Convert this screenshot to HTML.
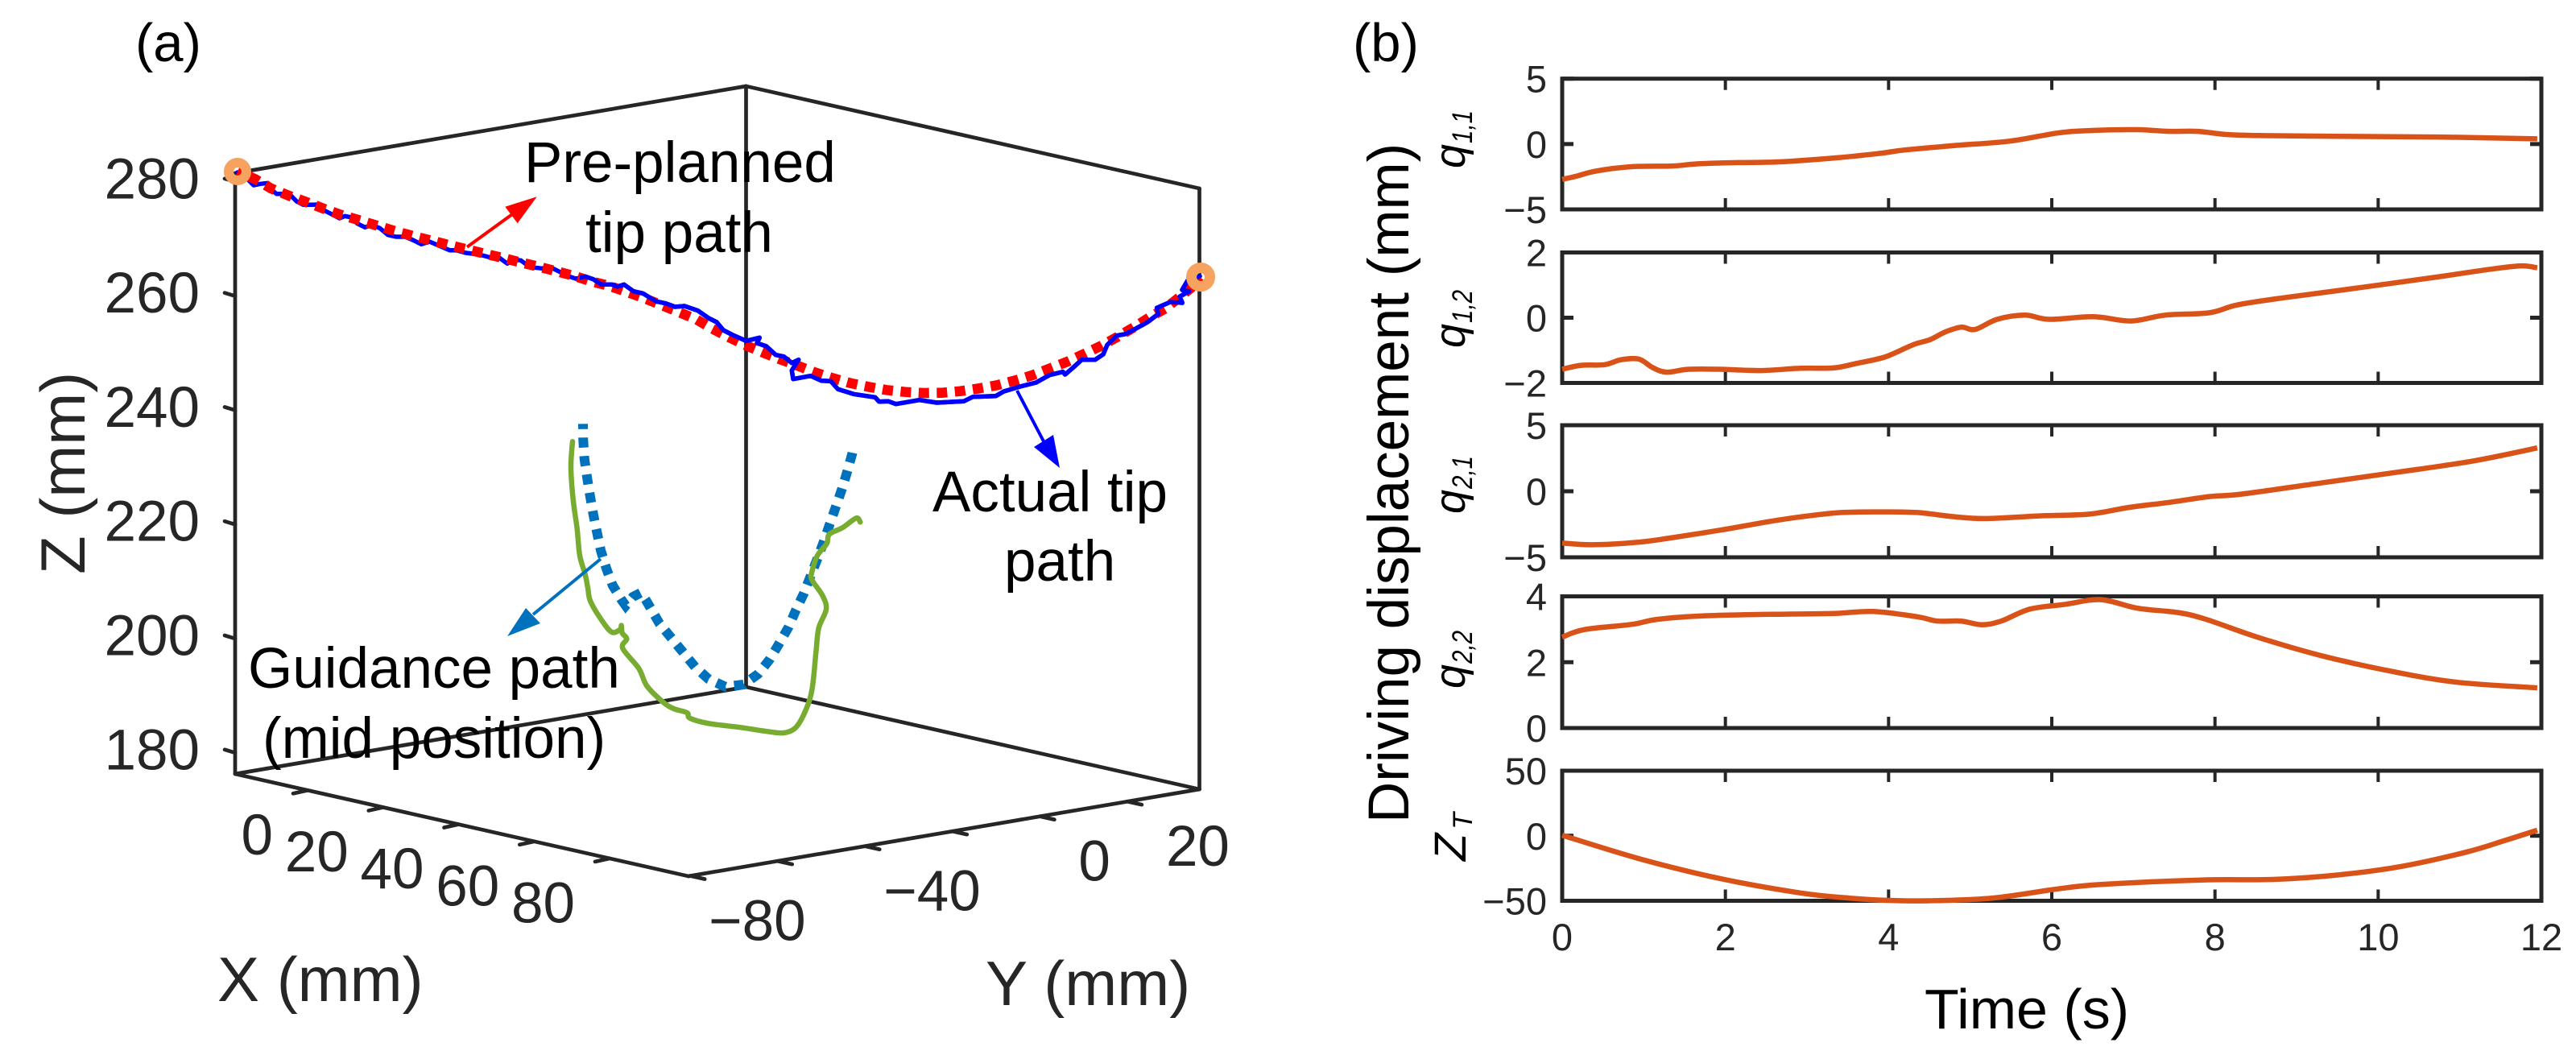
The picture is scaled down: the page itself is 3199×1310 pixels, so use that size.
<!DOCTYPE html>
<html>
<head>
<meta charset="utf-8">
<title>Tip path and driving displacement</title>
<style>
html,body{margin:0;padding:0;background:#fff;}
#figure{display:block;width:3199px;height:1310px;font-family:"Liberation Sans",Arial,sans-serif;}
</style>
</head>
<body>
<svg id="figure" xmlns="http://www.w3.org/2000/svg" width="3199" height="1310" viewBox="0 0 3199 1310">
  <rect x="0" y="0" width="3199" height="1310" fill="#ffffff"/>
  <defs>
    <clipPath id="right-part"><rect x="720" y="0" width="900" height="700"/></clipPath>
  </defs>
  <g id="plot3d"></g>
  <g id="panels"></g>

  <text x="168" y="76" font-size="67" fill="#000">(a)</text>
  <text x="1680" y="76" font-size="67" fill="#000">(b)</text>

  <text transform="translate(105,713) rotate(-90)" font-size="78" fill="#262626">Z (mm)</text>
  <text x="270" y="1243" font-size="78" fill="#262626">X (mm)</text>
  <text x="1224" y="1248" font-size="78" fill="#262626">Y (mm)</text>

  <text x="651" y="226" font-size="71" fill="#000">Pre-planned</text>
  <text x="727" y="313" font-size="71" fill="#000">tip path</text>
  <text x="1158" y="635" font-size="71" fill="#000">Actual tip</text>
  <text x="1247" y="721" font-size="71" fill="#000">path</text>
  <text x="308" y="854" font-size="71" fill="#000">Guidance path</text>
  <text x="326" y="941" font-size="71" fill="#000">(mid position)</text>

  <text transform="translate(1749,1022) rotate(-90)" font-size="71" fill="#000">Driving displacement (mm)</text>
  <text x="2390" y="1277" font-size="70" fill="#000">Time (s)</text>

  <text transform="translate(1819,209) rotate(-90)" fill="#000"><tspan font-style="italic" font-size="54">q</tspan><tspan font-style="italic" font-size="35" dx="1" dy="9" textLength="41" lengthAdjust="spacingAndGlyphs">1,1</tspan></text>
  <text transform="translate(1819,432) rotate(-90)" fill="#000"><tspan font-style="italic" font-size="54">q</tspan><tspan font-style="italic" font-size="35" dx="1" dy="9" textLength="41" lengthAdjust="spacingAndGlyphs">1,2</tspan></text>
  <text transform="translate(1819,638) rotate(-90)" fill="#000"><tspan font-style="italic" font-size="54">q</tspan><tspan font-style="italic" font-size="35" dx="1" dy="9" textLength="41" lengthAdjust="spacingAndGlyphs">2,1</tspan></text>
  <text transform="translate(1819,855) rotate(-90)" fill="#000"><tspan font-style="italic" font-size="54">q</tspan><tspan font-style="italic" font-size="35" dx="1" dy="9" textLength="41" lengthAdjust="spacingAndGlyphs">2,2</tspan></text>
  <text transform="translate(1820,1069) rotate(-90)" fill="#000"><tspan font-style="italic" font-size="56">Z</tspan><tspan font-style="italic" font-size="34" dx="5" dy="8">T</tspan></text>
</svg>

<script>
// ---------- Panel (b) data ----------
const q11Time = [0,.18,.42,.86,1.35,1.65,2.14,2.68,3.4,3.9,4.2,4.8,5.48,6.07,6.46,7.05,7.44,7.79,8.18,8.72,9.7,10.8,11.95];
const q11Disp = [-2.71,-2.45,-2.06,-1.73,-1.68,-1.52,-1.42,-1.36,-1.03,-.71,-.45,-.12,.22,.84,1.03,1.10,.97,.97,.71,.64,.58,.53,.40];
const q11Ticks = [-5,0,5];

const q12Time = [0,.23,.52,.72,.94,1.11,1.28,1.55,1.94,2.43,2.92,3.32,3.61,3.96,4.3,4.51,4.69,4.89,5.06,5.33,5.67,5.97,6.51,6.97,7.39,7.93,8.27,8.81,9.8,10.78,11.41,11.76,11.95];
const q12Disp = [-1.58,-1.46,-1.44,-1.29,-1.27,-1.53,-1.67,-1.58,-1.58,-1.62,-1.55,-1.54,-1.40,-1.20,-.83,-.67,-.44,-.29,-.36,-.05,.08,-.05,.03,-.10,.08,.15,.39,.60,.93,1.27,1.50,1.59,1.53];
const q12Ticks = [-2,0,2];

const q21Time = [0,.37,.96,1.35,1.94,2.53,2.92,3.42,3.91,4.35,4.79,5.18,5.87,6.46,6.95,7.44,7.93,8.32,9.3,10.28,11.17,11.95];
const q21Disp = [-3.92,-4.05,-3.84,-3.51,-2.94,-2.30,-1.94,-1.61,-1.56,-1.61,-1.92,-2.07,-1.86,-1.73,-1.22,-.84,-.40,-.22,.63,1.48,2.30,3.28];
const q21Ticks = [-5,0,5];

const q22Time = [0,.27,.86,1.16,1.75,2.73,3.32,3.81,4.35,4.6,4.89,5.14,5.38,5.73,6.17,6.6,7.05,7.54,7.88,8.52,9.3,10.19,10.97,11.95];
const q22Disp = [2.76,2.99,3.15,3.30,3.41,3.46,3.48,3.54,3.38,3.25,3.25,3.14,3.25,3.61,3.76,3.90,3.64,3.51,3.31,2.76,2.20,1.71,1.39,1.22];
const q22Ticks = [0,2,4];

const ztTime = [0,.96,1.94,2.92,3.51,4.0,4.49,5.28,6.07,6.6,7.83,8.71,9.5,10.28,11.07,11.56,11.95];
const ztDisp = [.39,-17.9,-33,-44,-47.9,-49.7,-50,-47.9,-40.9,-37.5,-34,-33.6,-30.2,-23.6,-12.7,-3.5,4.3];
const ztTicks = [-50,0,50];

const timeTicks = [0,2,4,6,8,10,12];

// ---------- Panel (a) data: Y and Z in mm; X follows the path plane ----------
const xTicks3d = [0,20,40,60,80];
const yTicks3d = [-80,-60,-40,-20,0,20];
const yLabels3d = [-80,-40,0,20];
const zTicks3d = [180,200,220,240,260,280];

const plannedY = [-80.11,-77.99,-76.04,-73.96,-71.81,-69.69,-67.58,-65.40,-63.25,-61.07,-58.95,-56.78,-54.56,-52.41,-50.26,-48.06,-45.84,-43.67,-41.48,-39.27,-37.25,-35.04,-32.86,-30.71,-28.69,-26.58,-24.46,-22.58,-20.56,-18.44,-16.43,-14.38,-12.16,-10.14,-8.03,-5.82,-3.64,-1.43,.82,3.04,5.31,7.53,9.77,11.98,14.19,16.31,18.42,20.51,22.56,24.61,26.56,28.51,30.47,32.32,34.18,35.57,36.55];
const plannedZ = [281.81,280.54,278.94,277.76,276.68,275.56,274.52,273.64,272.74,271.85,271.05,270.31,269.56,268.86,268.15,267.45,266.70,266.00,265.25,264.45,263.57,262.81,261.78,260.70,259.57,258.39,257.17,255.62,254.16,252.76,251.57,250.45,249.33,248.25,247.31,246.46,245.86,245.35,245.06,244.93,245.02,245.35,245.89,246.50,247.40,248.38,249.61,250.83,252.24,253.70,255.30,256.98,258.81,260.36,262.52,264.19,266.0];

const actualY = [-80.11,-78.81,-78.15,-77.34,-76.43,-76.04,-75.39,-74.57,-73.60,-72.95,-72.13,-71.16,-70.35,-69.53,-68.56,-67.74,-67.09,-66.27,-65.63,-64.65,-63.83,-62.86,-61.88,-60.91,-59.77,-58.80,-57.82,-56.84,-55.54,-54.40,-53.58,-52.45,-50.82,-49.36,-48.38,-47.40,-46.59,-45.77,-44.64,-43.18,-42.20,-41.22,-40.08,-39.11,-37.96,-36.99,-36.01,-34.71,-34.06,-33.25,-32.11,-30.97,-29.34,-28.20,-27.07,-25.93,-24.30,-23.00,-22.02,-21.21,-20.07,-18.44,-16.82,-17.14,-16.0,-14.87,-13.89,-12.92,-12.10,-12.92,-12.75,-10.63,-9.33,-8.19,-7.31,-5.43,-2.82,-2.33,-1.20,-.29,2.55,4.66,7.92,9.05,11.82,12.80,14.75,16.70,18.32,19.95,20.22,21.10,22.23,23.86,24.83,25.32,26.46,27.44,28.74,30.20,31.50,31.35,32.97,34.43,34.11,35.25,34.40,35.08,36.55];
const actualZ = [281.67,280.38,279.45,279.71,279.88,278.80,278.01,278.03,277.68,276.75,276.16,276.19,276.25,275.18,274.50,273.91,274.31,274.09,273.07,272.39,272.83,272.29,271.12,270.82,270.85,270.26,269.58,270.07,269.29,268.62,268.64,268.19,267.95,267.42,267.44,266.44,267.16,267.04,265.88,265.69,265.93,265.25,264.43,263.99,264.40,263.94,263.03,263.06,262.69,263.09,261.93,261.59,260.22,259.91,259.33,259.49,258.73,257.45,256.76,255.37,254.55,253.56,254.16,253.21,252.67,251.19,250.93,249.82,250.40,248.51,247.0,247.62,246.80,246.74,245.35,244.55,244.04,243.29,243.38,242.92,243.69,243.27,243.58,244.40,244.61,245.43,246.32,247.07,248.42,249.02,248.56,249.67,251.19,251.23,252.20,253.86,255.52,255.78,256.76,257.96,259.40,260.48,261.55,261.44,262.52,263.48,263.70,265.41,266.14];

const guidanceY = [-38.23,-38.20,-38.06,-37.74,-37.38,-36.99,-36.54,-36.08,-35.43,-34.65,-33.54,-33.05,-32.18,-31.20,-30.61,-30.10,-28.95,-27.56,-26.09,-24.63,-23.0,-20.98,-18.77,-16.98,-15.61,-14.44,-13.33,-12.43,-11.45,-10.63,-9.82,-9.01,-8.29,-7.55,-6.82,-6.18,-5.59,-5.43];
const guidanceZ = [238.58,235.70,232.52,229.28,226.04,222.81,219.66,216.48,213.44,210.40,207.84,206.86,208.44,209.16,207.91,206.65,203.81,201.39,198.84,196.29,194.22,192.94,193.37,195.29,197.81,200.66,203.51,206.53,209.52,212.60,215.58,218.74,221.82,224.89,227.96,231.03,234.11,235.28];

const midActualY = [-39.50,-39.69,-39.43,-38.94,-38.62,-37.96,-37.64,-37.32,-35.86,-34.71,-33.74,-33.57,-33.47,-32.93,-33.42,-31.46,-30.49,-28.53,-27.23,-25.61,-25.27,-23.0,-19.09,-15.84,-13.89,-12.43,-11.29,-10.47,-9.99,-9.65,-8.75,-9.17,-10.47,-10.47,-9.82,-8.68,-8.36,-6.73,-5.11,-4.62];
const midActualZ = [235.45,230.97,225.34,220.17,215.48,212.21,209.86,207.51,204.02,202.17,202.66,203.37,202.06,201.04,199.38,195.90,192.86,190.08,188.94,188.28,187.34,186.46,185.84,185.21,185.02,186.0,188.84,192.61,199.21,203.45,206.76,209.10,211.89,213.30,216.14,218.28,219.94,221.15,222.84,222.14];

// ---------- helpers ----------
const SVG_NS = 'http://www.w3.org/2000/svg';
const INK = '#262626';
function make(parent, tag, attrs, text) {
  const el = document.createElementNS(SVG_NS, tag);
  for (const k in attrs) el.setAttribute(k, attrs[k]);
  if (text !== undefined) el.textContent = text;
  parent.appendChild(el);
  return el;
}
function fmt(v) { return v < 0 ? '\u2212' + Math.abs(v) : String(v); }
function pathFrom(pts) { return pts.map((p, i) => (i ? 'L' : 'M') + p[0].toFixed(1) + ' ' + p[1].toFixed(1)).join(' '); }
// Rounded curve through the plotted points (Catmull-Rom to Bezier).
function smoothPath(pts) {
  let d = 'M' + pts[0][0].toFixed(1) + ' ' + pts[0][1].toFixed(1);
  for (let i = 0; i < pts.length - 1; i++) {
    const p0 = pts[Math.max(i - 1, 0)], p1 = pts[i], p2 = pts[i + 1], p3 = pts[Math.min(i + 2, pts.length - 1)];
    const c1x = p1[0] + (p2[0] - p0[0]) / 6, c1y = p1[1] + (p2[1] - p0[1]) / 6;
    const c2x = p2[0] - (p3[0] - p1[0]) / 6, c2y = p2[1] - (p3[1] - p1[1]) / 6;
    d += 'C' + c1x.toFixed(1) + ' ' + c1y.toFixed(1) + ' ' + c2x.toFixed(1) + ' ' + c2y.toFixed(1) + ' ' + p2[0].toFixed(1) + ' ' + p2[1].toFixed(1);
  }
  return d;
}

// ---------- 3D axis functions ----------
const xMin = -19.2, xMax = 100.9, yMin = -80.4, yMax = 36.5, zMin = 176.3;
function project3d(x, y, z) {
  const a = (x - xMin) / (xMax - xMin), b = (y - yMin) / (yMax - yMin);
  return [292 + a * 563 + b * 634.5, 961 + a * 127 - b * 108 - (z - zMin) * 7.09];
}
function xOnPathPlane(y) { return xMin + (y - yMin) / (yMax - yMin) * (xMax - xMin); }
function curve3d(ys, zs) { return ys.map((y, i) => project3d(xOnPathPlane(y), y, zs[i])); }

const plot3d = document.getElementById('plot3d');
const zMax = zMin + 746 / 7.09;
const edgeStyle = {stroke: INK, 'stroke-width': 4.7, fill: 'none', 'stroke-linecap': 'round', 'stroke-linejoin': 'round'};

function edge3d(a, b) {
  return make(plot3d, 'path', Object.assign({d: pathFrom([a, b])}, edgeStyle));
}
const cL0 = project3d(xMin, yMin, zMin), cF0 = project3d(xMax, yMin, zMin), cR0 = project3d(xMax, yMax, zMin), cB0 = project3d(xMin, yMax, zMin);
const cL1 = project3d(xMin, yMin, zMax), cR1 = project3d(xMax, yMax, zMax), cB1 = project3d(xMin, yMax, zMax);

let e = edge3d(cL0, cF0);


e = edge3d(cF0, cR0);


e = edge3d(cL0, cB0);


e = edge3d(cB0, cR0);


e = edge3d(cL0, cL1);


e = edge3d(cB0, cB1);


e = edge3d(cR0, cR1);


e = edge3d(cL1, cB1);


e = edge3d(cB1, cR1);



xTicks3d.forEach(v => {
  const p = project3d(v, yMin, zMin);
  const t = edge3d(p, [p[0] - 18, p[1] + 4]);
  
  
  const l = make(plot3d, 'text', {x: p[0] - 43, y: p[1] + 79.5, 'font-size': 71, fill: INK, 'text-anchor': 'end'}, fmt(v));
  
  
});
yTicks3d.forEach(v => {
  const p = project3d(xMax, v, zMin);
  const t = edge3d(p, [p[0] + 18, p[1] + 4]);
  
  
});
yLabels3d.forEach(v => {
  const p = project3d(xMax, v, zMin);
  const l = make(plot3d, 'text', {x: p[0] + (v < 0 ? 23 : 48), y: p[1] + 80, 'font-size': 71, fill: INK}, fmt(v));
  
  
});
zTicks3d.forEach(v => {
  const p = project3d(xMin, yMin, v);
  const t = edge3d(p, [p[0] - 13, p[1] - 4]);
  
  
  const l = make(plot3d, 'text', {x: 248, y: p[1] + 20.5, 'font-size': 71, fill: INK, 'text-anchor': 'end'}, fmt(v));
  
  
});

// guidance path (dashed) and measured mid position
const guide = make(plot3d, 'path', {d: pathFrom(curve3d(guidanceY, guidanceZ)), fill: 'none', stroke: '#0072BD', 'stroke-width': 12, 'stroke-dasharray': '12.5 10.5', 'stroke-dashoffset': 6});


const mid = make(plot3d, 'path', {d: smoothPath(curve3d(midActualY, midActualZ)), fill: 'none', stroke: '#77AC30', 'stroke-width': 6.5, 'stroke-linejoin': 'round', 'stroke-linecap': 'round'});



// annotation arrows
function arrow(x1, y1, x2, y2, head, color) {
  const g = make(plot3d, 'g', {});
  make(g, 'line', {x1: x1, y1: y1, x2: x2, y2: y2, stroke: color, 'stroke-width': 4});
  make(g, 'polygon', {points: head, fill: color});
  return g;
}
let ar = arrow(746, 694, 662, 763, '630,790 653,755 671,774', '#0072BD');



// tip paths
const actualD = pathFrom(curve3d(actualY, actualZ));
const actual = make(plot3d, 'path', {d: actualD, fill: 'none', stroke: '#0000FF', 'stroke-width': 5.5, 'stroke-linejoin': 'round', 'stroke-linecap': 'round'});


const planned = make(plot3d, 'path', {d: pathFrom(curve3d(plannedY, plannedZ)), fill: 'none', stroke: '#FF0000', 'stroke-width': 12.5, 'stroke-dasharray': '13 9.5', 'stroke-dashoffset': 6.5});


const actualTop = make(plot3d, 'path', {d: actualD, fill: 'none', stroke: '#0000FF', 'stroke-width': 5.5, 'stroke-linejoin': 'round', 'stroke-linecap': 'round', 'clip-path': 'url(#right-part)'});



ar = arrow(580, 306.7, 650, 256, '666.7,244.3 627.3,256.7 642.7,277.3', '#FF0000');


ar = arrow(1263, 485, 1296, 548, '1316,581 1284,555 1308,540', '#0000FF');



// end markers
const firstPt = project3d(xOnPathPlane(plannedY[0]), plannedY[0], plannedZ[0]);
const lastPt = project3d(xOnPathPlane(plannedY[plannedY.length - 1]), plannedY[plannedY.length - 1], plannedZ[plannedZ.length - 1]);
let ring = make(plot3d, 'circle', {cx: firstPt[0], cy: firstPt[1], r: 11, fill: 'none', stroke: '#F5A35E', 'stroke-width': 12});


ring = make(plot3d, 'circle', {cx: lastPt[0] + 1, cy: lastPt[1], r: 11.5, fill: 'none', stroke: '#F5A35E', 'stroke-width': 13});



// ---------- Panel (b) ----------
const panels = document.getElementById('panels');
const axLeft = 1940, axRight = 3156, timeMax = 12;
function timeToX(t) { return axLeft + t / timeMax * (axRight - axLeft); }

function drawPanel(top, bottom, times, values, ticks, showTimeLabels) {
  const g = make(panels, 'g', {});
  const lo = ticks[0], hi = ticks[ticks.length - 1];
  const valueToY = v => bottom - (v - lo) / (hi - lo) * (bottom - top);
  const frame = make(g, 'rect', {x: axLeft, y: top, width: axRight - axLeft, height: bottom - top, fill: 'none', stroke: INK, 'stroke-width': 5});
  
  
  timeTicks.forEach(t => {
    const x = timeToX(t);
    const tb = make(g, 'line', {x1: x, y1: bottom, x2: x, y2: bottom - 14, stroke: INK, 'stroke-width': 4});
    
    
    const tt = make(g, 'line', {x1: x, y1: top, x2: x, y2: top + 14, stroke: INK, 'stroke-width': 4});
    
    
    if (showTimeLabels) {
      const tl = make(g, 'text', {x: x, y: 1180, 'font-size': 47, fill: INK, 'text-anchor': 'middle'}, String(t));
      
      
    }
  });
  ticks.forEach(v => {
    const y = valueToY(v);
    const tl = make(g, 'line', {x1: axLeft, y1: y, x2: axLeft + 14, y2: y, stroke: INK, 'stroke-width': 5});
    
    
    const tr = make(g, 'line', {x1: axRight, y1: y, x2: axRight - 14, y2: y, stroke: INK, 'stroke-width': 5});
    
    
    const lab = make(g, 'text', {x: 1921, y: y + 17, 'font-size': 47, fill: INK, 'text-anchor': 'end'}, fmt(v));
    
    
  });
  const line = make(g, 'path', {d: smoothPath(times.map((t, i) => [timeToX(t), valueToY(values[i])])), fill: 'none', stroke: '#D95319', 'stroke-width': 6.5, 'stroke-linejoin': 'round', 'stroke-linecap': 'butt'});
  
  
  return g;
}

let pg = drawPanel(97.7, 260, q11Time, q11Disp, q11Ticks, false);


pg = drawPanel(313.5, 475.5, q12Time, q12Disp, q12Ticks, false);


pg = drawPanel(528, 692, q21Time, q21Disp, q21Ticks, false);


pg = drawPanel(740.5, 904, q22Time, q22Disp, q22Ticks, false);


pg = drawPanel(957, 1118.5, ztTime, ztDisp, ztTicks, true);


</script>
</body>
</html>
